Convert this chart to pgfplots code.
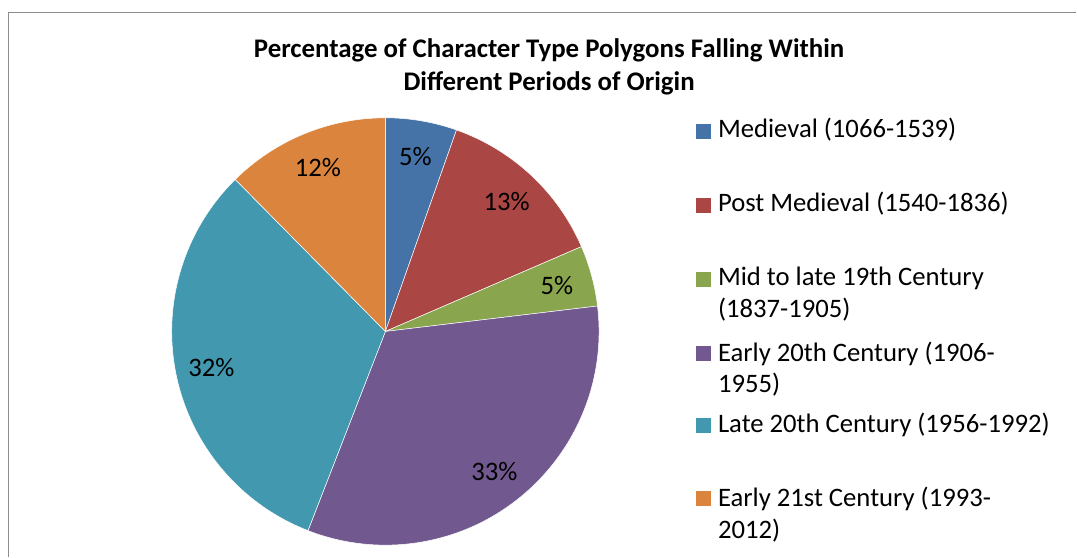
\documentclass[border=0pt]{standalone}
\usepackage{pgfplots}
\pgfplotsset{compat=1.18}
\usepackage{pgfplotstable}
\usepackage{fontspec}
\setmainfont{Carlito}

\definecolor{c0}{HTML}{4572A7}
\definecolor{c1}{HTML}{AA4643}
\definecolor{c2}{HTML}{89A54E}
\definecolor{c3}{HTML}{71588F}
\definecolor{c4}{HTML}{4198AF}
\definecolor{c5}{HTML}{DB843D}
\definecolor{framegray}{HTML}{8C8C8C}

% share (%) of character type polygons per period of origin
\pgfplotstableread{
idx value
0 5.4
1 13.1
2 4.6
3 32.8
4 31.7
5 12.4
}\piedata

% precompute slice angles (clockwise from 12 o'clock)
\gdef\cum{0}
\pgfplotsforeachungrouped \i in {0,...,5}{%
  \pgfplotstablegetelem{\i}{value}\of\piedata
  \let\v=\pgfplotsretval
  \pgfmathsetmacro\sa{90-3.6*\cum}%
  \pgfmathsetmacro\ea{90-3.6*(\cum+\v)}%
  \pgfmathsetmacro\ma{90-3.6*(\cum+\v/2)}%
  \pgfmathtruncatemacro\lab{round(\v)}%
  \pgfmathsetmacro\newcum{\cum+\v}%
  \global\let\cum=\newcum
  \expandafter\xdef\csname sa\i\endcsname{\sa}%
  \expandafter\xdef\csname ea\i\endcsname{\ea}%
  \expandafter\xdef\csname ma\i\endcsname{\ma}%
  \expandafter\xdef\csname lab\i\endcsname{\lab}%
}

\newcommand\txt{\fontsize{26.8}{31}\selectfont}
\newcommand\ttl{\fontsize{27}{33}\selectfont\bfseries}

\begin{document}
\begin{tikzpicture}
\begin{axis}[
  x=1bp, y=1bp,
  xmin=0, xmax=1077, ymin=0, ymax=557,
  y dir=reverse,
  hide axis, clip=false,
  scale only axis,
]
\path (axis cs:0,0) rectangle (axis cs:1077,557);
% frame
\draw[framegray, line width=1.5bp] (axis cs:1078,12.5) -- (axis cs:8.5,12.5) -- (axis cs:8.5,558);

% pie slices
\pgfplotsinvokeforeach{0,...,5}{%
  \fill[c#1, draw=white, line width=0.5bp] (axis cs:386,332) -- ++(\csname sa#1\endcsname:214bp)
     arc[start angle=\csname sa#1\endcsname, end angle=\csname ea#1\endcsname, radius=214bp] -- cycle;
}
\pgfplotsinvokeforeach{0,...,5}{%
  \path (axis cs:386,332) ++(\csname ma#1\endcsname:178bp) node[font=\txt, text=black] {\csname lab#1\endcsname\%};
}

% title
\node[font=\ttl, anchor=base, inner sep=0pt] at (axis cs:550,58) {Percentage of Character Type Polygons Falling Within};
\node[font=\ttl, anchor=base, inner sep=0pt] at (axis cs:550,91) {Different Periods of Origin};

% legend
\tikzset{lg/.style={font=\txt, anchor=base west, inner sep=0pt}}
\fill[c0] (axis cs:697,124) rectangle (axis cs:712,139);
\node[lg] at (axis cs:719,138) {Medieval (1066-1539)};
\fill[c1] (axis cs:697,198) rectangle (axis cs:712,213);
\node[lg] at (axis cs:719,212) {Post Medieval (1540-1836)};
\fill[c2] (axis cs:697,272) rectangle (axis cs:712,287);
\node[lg] at (axis cs:719,286) {Mid to late 19th Century};
\node[lg] at (axis cs:719,318) {(1837-1905)};
\fill[c3] (axis cs:697,347) rectangle (axis cs:712,362);
\node[lg] at (axis cs:719,362) {Early 20th Century (1906-};
\node[lg] at (axis cs:719,393) {1955)};
\fill[c4] (axis cs:697,419) rectangle (axis cs:712,434);
\node[lg] at (axis cs:719,433) {Late 20th Century (1956-1992)};
\fill[c5] (axis cs:697,492) rectangle (axis cs:712,507);
\node[lg] at (axis cs:719,507) {Early 21st Century (1993-};
\node[lg] at (axis cs:719,539) {2012)};
\end{axis}
\end{tikzpicture}
\end{document}
